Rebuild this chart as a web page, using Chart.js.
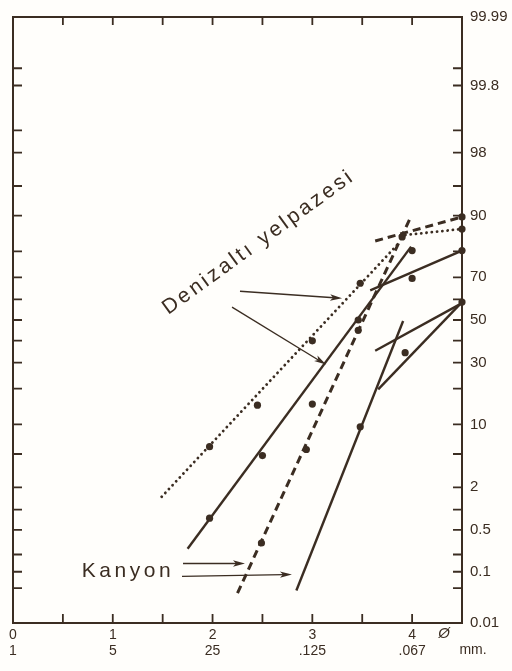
<!DOCTYPE html>
<html>
<head>
<meta charset="utf-8">
<script src="https://cdn.jsdelivr.net/npm/chart.js@4.4.0/dist/chart.umd.min.js"></script>
<style>
  html, body { margin: 0; padding: 0; background: #fffefb; }
</style>
</head>
<body>
<canvas id="chart" width="512" height="671"></canvas>
<script>
// x axis: phi units, with mm underneath
const phiTicks = [0, 1, 2, 3, 4];
const mmLabels = ["1", "5", "25", ".125", ".067"];
const phiMinor = [0.5, 1, 1.5, 2, 2.5, 3, 3.5, 4];

// y axis: cumulative percent on probability paper
const pctLabelled = [99.99, 99.8, 98, 90, 70, 50, 30, 10, 2, 0.5, 0.1, 0.01];
const pctLabelText = ["99.99", "99.8", "98", "90", "70", "50", "30", "10", "2", "0.5", "0.1", "0.01"];
const pctMinor = [99.9, 99.8, 99, 98, 95, 90, 80, 70, 60, 50, 40, 30, 20, 10, 5, 2, 1, 0.5, 0.2, 0.1, 0.05];

// Denizaltı yelpazesi - dotted sample
const denizDotPhi = [1.97, 2.45, 3.0, 3.48, 3.9, 4.5];
const denizDotPct = [6.0, 14.8, 39.9, 67.4, 84.6, 86.8];
const denizDotFitPhi = [1.49, 3.86];
const denizDotFitPct = [1.5, 82.5];
const denizDotTailPhi = [3.88, 4.5];
const denizDotTailPct = [85.0, 86.8];

// Denizaltı yelpazesi - solid sample
const denizSolPhi = [1.97, 2.5, 3.0, 3.46, 4.0, 4.0, 4.5];
const denizSolPct = [0.75, 4.8, 15.1, 50, 69.5, 80.3, 80.3];
const denizSolFitPhi = [1.75, 3.99];
const denizSolFitPct = [0.25, 81.6];
const denizSolTailPhi = [3.58, 4.5];
const denizSolTailPct = [64.2, 80.3];

// Kanyon - dashed sample
const kanyonDashPhi = [2.49, 2.94, 3.46, 4.5];
const kanyonDashPct = [0.31, 5.6, 45, 89.7];
const kanyonDashFitPhi = [2.25, 3.99];
const kanyonDashFitPct = [0.04, 89.9];
const kanyonDashTailPhi = [3.63, 4.5];
const kanyonDashTailPct = [83.4, 89.7];

// Kanyon - solid sample
const kanyonSolPhi = [3.48, 3.93, 4.5];
const kanyonSolPct = [9.5, 34.4, 58.7];
const kanyonSolFitPhi = [2.84, 3.91];
const kanyonSolFitPct = [0.045, 49.5];
const kanyonSolTailPhi = [3.63, 4.5];
const kanyonSolTailPct = [35.3, 58.2];
const kanyonSolTail2Phi = [3.66, 4.5];
const kanyonSolTail2Pct = [19.7, 58.7];

const INK = "#3b2d22";

// inverse of the normal cdf (Acklam)
function probit(pct) {
  const p = pct / 100;
  const a = [-39.69683028665376, 220.9460984245205, -275.9285104469687, 138.357751867269, -30.66479806614716, 2.506628277459239];
  const b = [-54.47609879822406, 161.5858368580409, -155.6989798598866, 66.80131188771972, -13.28068155288572];
  const c = [-0.007784894002430293, -0.3223964580411365, -2.400758277161838, -2.549732539343734, 4.374664141464968, 2.938163982698783];
  const d = [0.007784695709041462, 0.3224671290700398, 2.445134137142996, 3.754408661907416];
  const pl = 0.02425;
  let q, r;
  if (p < pl) {
    q = Math.sqrt(-2 * Math.log(p));
    return (((((c[0]*q+c[1])*q+c[2])*q+c[3])*q+c[4])*q+c[5]) / ((((d[0]*q+d[1])*q+d[2])*q+d[3])*q+1);
  }
  if (p > 1 - pl) {
    q = Math.sqrt(-2 * Math.log(1 - p));
    return -(((((c[0]*q+c[1])*q+c[2])*q+c[3])*q+c[4])*q+c[5]) / ((((d[0]*q+d[1])*q+d[2])*q+d[3])*q+1);
  }
  q = p - 0.5; r = q * q;
  return (((((a[0]*r+a[1])*r+a[2])*r+a[3])*r+a[4])*r+a[5])*q / (((((b[0]*r+b[1])*r+b[2])*r+b[3])*r+b[4])*r+1);
}

function pts(phis, pcts) {
  return phis.map((x, i) => ({ x: x, y: probit(pcts[i]) }));
}

function lineSet(phis, pcts, kind) {
  const ds = {
    data: pts(phis, pcts),
    showLine: true,
    borderColor: INK,
    borderWidth: 2.4,
    pointRadius: 0,
    clip: false,
  };
  if (kind === "dot") {
    ds.borderDash = [0.1, 5.2];
    ds.borderCapStyle = "round";
    ds.borderWidth = 2.8;
  }
  if (kind === "dash") {
    ds.borderDash = [8, 5];
    ds.borderWidth = 3;
  }
  return ds;
}

function pointSet(phis, pcts) {
  return {
    data: pts(phis, pcts),
    showLine: false,
    pointRadius: 3.6,
    pointBackgroundColor: INK,
    pointBorderColor: INK,
    pointBorderWidth: 0,
    clip: false,
  };
}

// labels and arrows, placed in data units
const notes = [
  { text: "Denizaltı yelpazesi", phi: 1.555, pct: 52.4, angle: -36, size: 21, spacing: 3 },
  { text: "Kanyon", phi: 0.69, pct: 0.079, angle: 0, size: 21, spacing: 3.5 },
];
const arrows = [
  { from: [2.275, 63.8], to: [3.298, 60.5] },
  { from: [2.195, 56.3], to: [3.137, 29.2] },
  { from: [1.704, 0.14], to: [2.325, 0.14] },
  { from: [1.694, 0.0825], to: [2.796, 0.0895] },
];

const paperPlugin = {
  id: "paper",
  beforeDraw(chart) {
    const ctx = chart.ctx;
    ctx.save();
    ctx.fillStyle = "#fffefb";
    ctx.fillRect(0, 0, chart.width, chart.height);
    ctx.restore();
  },
  afterDraw(chart) {
    const ctx = chart.ctx;
    const xs = chart.scales.x, ys = chart.scales.y;
    const a = chart.chartArea;
    ctx.save();
    ctx.strokeStyle = INK;
    ctx.fillStyle = INK;
    // frame
    ctx.lineWidth = 2;
    ctx.strokeRect(a.left, a.top, a.right - a.left, a.bottom - a.top);
    // inward ticks
    ctx.lineWidth = 1.8;
    ctx.beginPath();
    pctMinor.forEach(p => {
      const y = ys.getPixelForValue(probit(p));
      ctx.moveTo(a.left, y); ctx.lineTo(a.left + 9, y);
      ctx.moveTo(a.right, y); ctx.lineTo(a.right - 9, y);
    });
    phiMinor.forEach(v => {
      const x = xs.getPixelForValue(v);
      ctx.moveTo(x, a.top); ctx.lineTo(x, a.top + 8);
      ctx.moveTo(x, a.bottom); ctx.lineTo(x, a.bottom - 9);
    });
    ctx.stroke();

    // phi symbol and mm unit
    ctx.font = "14px 'Liberation Sans'";
    ctx.textAlign = "center";
    ctx.textBaseline = "middle";
    ctx.font = "italic 15px 'Liberation Sans'";
    ctx.fillText("Ø", xs.getPixelForValue(4.32), a.bottom + 11);
    ctx.font = "14px 'Liberation Sans'";
    ctx.fillText("mm.", a.right + 11, a.bottom + 27);

    // arrows
    ctx.lineWidth = 1.3;
    arrows.forEach(ar => {
      const x1 = xs.getPixelForValue(ar.from[0]), y1 = ys.getPixelForValue(probit(ar.from[1]));
      const x2 = xs.getPixelForValue(ar.to[0]), y2 = ys.getPixelForValue(probit(ar.to[1]));
      const ang = Math.atan2(y2 - y1, x2 - x1);
      ctx.beginPath();
      ctx.moveTo(x1, y1);
      ctx.lineTo(x2 - 8 * Math.cos(ang), y2 - 8 * Math.sin(ang));
      ctx.stroke();
      ctx.beginPath();
      ctx.moveTo(x2, y2);
      ctx.lineTo(x2 - 12 * Math.cos(ang) + 3.2 * Math.sin(ang), y2 - 12 * Math.sin(ang) - 3.2 * Math.cos(ang));
      ctx.lineTo(x2 - 9 * Math.cos(ang), y2 - 9 * Math.sin(ang));
      ctx.lineTo(x2 - 12 * Math.cos(ang) - 3.2 * Math.sin(ang), y2 - 12 * Math.sin(ang) + 3.2 * Math.cos(ang));
      ctx.closePath();
      ctx.fill();
    });

    // text labels
    notes.forEach(n => {
      ctx.save();
      ctx.translate(xs.getPixelForValue(n.phi), ys.getPixelForValue(probit(n.pct)));
      ctx.rotate(n.angle * Math.PI / 180);
      ctx.font = n.size + "px 'Liberation Sans'";
      ctx.letterSpacing = n.spacing + "px";
      ctx.textAlign = "left";
      ctx.textBaseline = "alphabetic";
      ctx.fillText(n.text, 0, 0);
      ctx.restore();
    });
    ctx.restore();
  },
};

new Chart(document.getElementById("chart"), {
  type: "scatter",
  data: {
    datasets: [
      lineSet(denizDotFitPhi, denizDotFitPct, "dot"),
      lineSet(denizDotTailPhi, denizDotTailPct, "dot"),
      pointSet(denizDotPhi, denizDotPct),
      lineSet(denizSolFitPhi, denizSolFitPct, "solid"),
      lineSet(denizSolTailPhi, denizSolTailPct, "solid"),
      pointSet(denizSolPhi, denizSolPct),
      lineSet(kanyonDashFitPhi, kanyonDashFitPct, "dash"),
      lineSet(kanyonDashTailPhi, kanyonDashTailPct, "dash"),
      pointSet(kanyonDashPhi, kanyonDashPct),
      lineSet(kanyonSolFitPhi, kanyonSolFitPct, "solid"),
      lineSet(kanyonSolTailPhi, kanyonSolTailPct, "solid"),
      lineSet(kanyonSolTail2Phi, kanyonSolTail2Pct, "solid"),
      pointSet(kanyonSolPhi, kanyonSolPct),
    ],
  },
  options: {
    responsive: false,
    animation: false,
    devicePixelRatio: 1,
    layout: { padding: { left: 13, top: 11, right: 0, bottom: 0 } },
    scales: {
      x: {
        type: "linear",
        min: 0,
        max: 4.5,
        grid: { display: false, drawTicks: false },
        border: { display: false },
        afterBuildTicks: (s) => { s.ticks = phiTicks.map(v => ({ value: v })); },
        afterFit: (s) => { s.height = 48; },
        ticks: {
          autoSkip: false,
          maxRotation: 0,
          padding: 4,
          color: INK,
          font: { family: "Liberation Sans", size: 14, lineHeight: 1.15 },
          callback: (v) => [String(v), mmLabels[phiTicks.indexOf(v)]],
        },
      },
      y: {
        type: "linear",
        position: "right",
        min: probit(0.01),
        max: probit(99.99),
        grid: { display: false, drawTicks: false },
        border: { display: false },
        afterBuildTicks: (s) => { s.ticks = pctLabelled.map(p => ({ value: probit(p) })); },
        afterFit: (s) => { s.width = 50; },
        ticks: {
          autoSkip: false,
          padding: 8,
          color: INK,
          font: { family: "Liberation Sans", size: 15 },
          callback: (v, i) => pctLabelText[i],
        },
      },
    },
    plugins: {
      legend: { display: false },
      tooltip: { enabled: false },
    },
  },
  plugins: [paperPlugin],
});
</script>
</body>
</html>
